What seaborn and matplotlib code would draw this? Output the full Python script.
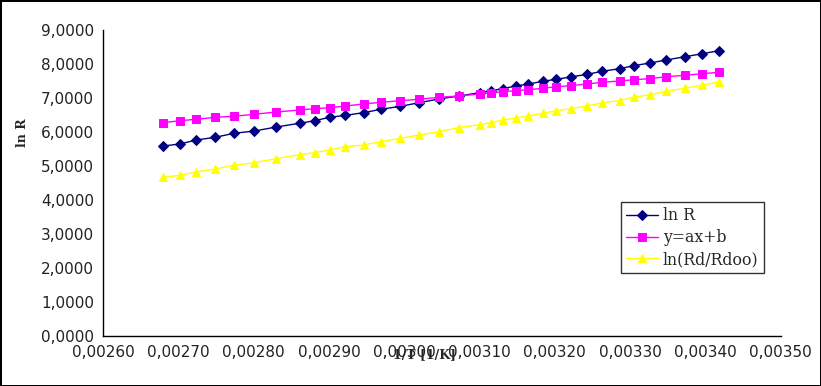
import numpy as np
import pandas as pd
import matplotlib
matplotlib.use('Agg')
import matplotlib.pyplot as plt
from matplotlib.ticker import FuncFormatter, MultipleLocator
import seaborn as sns

# 1/T values
inv_t = [0.002680, 0.002702, 0.002724, 0.002749, 0.002774, 0.002801, 0.002830,
         0.002861, 0.002881, 0.002901, 0.002922, 0.002946, 0.002969, 0.002995,
         0.003020, 0.003046, 0.003073, 0.003100, 0.003115, 0.003131, 0.003148,
         0.003165, 0.003184, 0.003202, 0.003221, 0.003243, 0.003263, 0.003286,
         0.003305, 0.003326, 0.003348, 0.003373, 0.003396, 0.003418]

ln_r = [5.588, 5.647, 5.765, 5.844, 5.962, 6.029, 6.147, 6.256, 6.332, 6.432,
        6.491, 6.568, 6.668, 6.756, 6.862, 6.971, 7.059, 7.156, 7.215, 7.274,
        7.353, 7.412, 7.491, 7.550, 7.618, 7.697, 7.785, 7.862, 7.950, 8.029,
        8.118, 8.215, 8.303, 8.391]

fit = [6.274, 6.332, 6.374, 6.432, 6.462, 6.521, 6.588, 6.647, 6.685, 6.715,
       6.765, 6.824, 6.874, 6.921, 6.962, 7.021, 7.059, 7.118, 7.156, 7.185,
       7.215, 7.244, 7.285, 7.332, 7.362, 7.412, 7.462, 7.500, 7.538, 7.568,
       7.626, 7.668, 7.715, 7.756]

ln_rd = [4.668, 4.726, 4.824, 4.912, 5.021, 5.097, 5.215, 5.332, 5.391, 5.471,
         5.568, 5.618, 5.715, 5.815, 5.912, 6.009, 6.132, 6.215, 6.274, 6.353,
         6.412, 6.471, 6.550, 6.626, 6.685, 6.765, 6.862, 6.921, 7.021, 7.097,
         7.197, 7.285, 7.382, 7.471]

series_names = ['ln R', 'y=ax+b', 'ln(Rd/Rdoo)']

df = pd.DataFrame({'x': inv_t, 'ln R': ln_r, 'y=ax+b': fit, 'ln(Rd/Rdoo)': ln_rd})

sns.set_style('white')
plt.rcParams['font.family'] = ['DejaVu Sans']

fig = plt.figure(figsize=(8.21, 3.86), dpi=100, edgecolor='black', linewidth=2)
ax = fig.add_axes([103 / 821, 1 - 336 / 386, (780.7 - 103) / 821, (336 - 30) / 386])

styles = {
    'ln R': dict(color='#000080', marker='D', markersize=4.8),
    'y=ax+b': dict(color='#FF00FF', marker='s', markersize=5.6),
    'ln(Rd/Rdoo)': dict(color='#FFFF00', marker='^', markersize=6.2),
}
for name in series_names:
    st = styles[name]
    sns.lineplot(data=df, x='x', y=name, ax=ax, label=name, color=st['color'],
                 marker=st['marker'], markersize=st['markersize'],
                 markeredgecolor=st['color'], linewidth=1)

ax.set_xlim(0.0026, 0.0035)
ax.set_ylim(0, 9)
ax.xaxis.set_major_locator(MultipleLocator(0.0001))
ax.yaxis.set_major_locator(MultipleLocator(1))
ax.xaxis.set_major_formatter(FuncFormatter(lambda v, p: f"{v:.5f}".replace('.', ',')))
ax.yaxis.set_major_formatter(FuncFormatter(lambda v, p: f"{v:.4f}".replace('.', ',')))

for s in ['top', 'right']:
    ax.spines[s].set_visible(False)
for s in ['left', 'bottom']:
    ax.spines[s].set_color('black')
    ax.spines[s].set_linewidth(1)

ax.tick_params(axis='both', direction='inout', length=7, width=1, color='black',
               labelsize=11, labelcolor='#222222')
ax.tick_params(axis='x', pad=3)
ax.tick_params(axis='y', pad=3)

ax.set_xlabel('1/T [1/K]', fontfamily='DejaVu Serif', fontweight='bold', fontsize=9,
              va='center')
ax.xaxis.set_label_coords(0.475, -0.062)
ax.set_ylabel('ln R', fontfamily='DejaVu Serif', fontweight='bold', fontsize=9,
              va='center')
ax.yaxis.set_label_coords(-0.1195, 0.663)

leg = ax.legend(loc='upper left', bbox_to_anchor=(621 / 821, 1 - 202 / 386),
                bbox_transform=fig.transFigure, frameon=True, fancybox=False,
                prop={'family': 'DejaVu Serif', 'size': 11.3}, handlelength=2.0,
                borderpad=0.35, labelspacing=0.3, handletextpad=0.3,
                borderaxespad=0)
leg.get_frame().set_edgecolor('black')
leg.get_frame().set_linewidth(1)

fig.savefig('out.png', dpi=100, edgecolor=fig.get_edgecolor())
